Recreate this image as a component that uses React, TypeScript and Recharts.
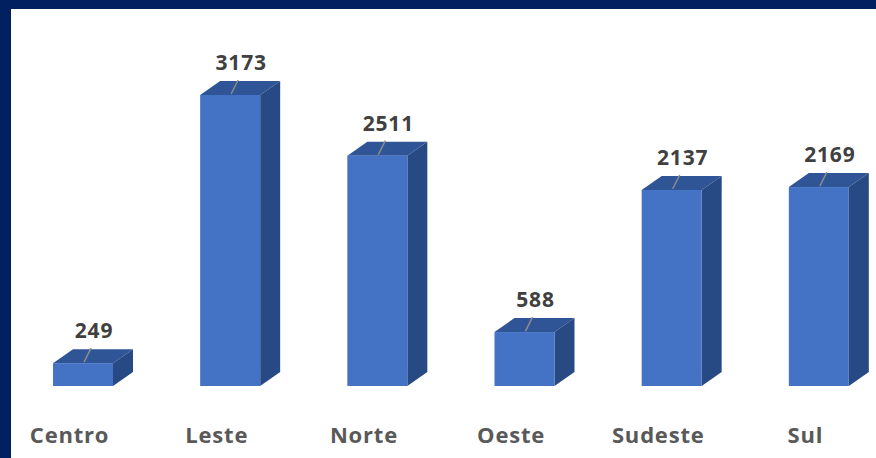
import { BarChart, Bar, XAxis, YAxis, LabelList } from "recharts";

const regions = ["Centro", "Leste", "Norte", "Oeste", "Sudeste", "Sul"];
const totals = [249, 3173, 2511, 588, 2137, 2169];

const data = regions.map((name, i) => ({ name, total: totals[i] }));

const DX = 20;
const DY = 14;

function Bar3D(props: any) {
  const { x, y, width, height } = props;
  if (height <= 0) return null;
  const r = x + width;
  const b = y + height;
  return (
    <g>
      <polygon points={`${x},${y} ${x + DX},${y - DY} ${r + DX},${y - DY} ${r},${y}`} fill="#2f5597" />
      <polygon points={`${r},${y} ${r + DX},${y - DY} ${r + DX},${b - DY} ${r},${b}`} fill="#284a84" />
      <rect x={x} y={y} width={width} height={height} fill="#4472c4" />
    </g>
  );
}

function ValueLabel(props: any) {
  const { x, y, width, value } = props;
  const cx = x + width / 2;
  return (
    <g>
      <line x1={cx + 1} y1={y - 1} x2={cx + 8} y2={y - 15} stroke="#8c8c8c" strokeWidth={1.5} />
      <text x={cx + 11} y={y - 25} textAnchor="middle" fill="#404040" fontSize={21} fontWeight="bold" letterSpacing={0.8} fontFamily="'Open Sans', sans-serif">
        {value}
      </text>
    </g>
  );
}

function CategoryTick(props: any) {
  const { x, y, payload } = props;
  return (
    <text x={x - 13} y={y + 57} textAnchor="middle" fill="#595959" fontSize={22} fontWeight="bold" letterSpacing={0.8} fontFamily="'Open Sans', sans-serif">
      {payload.value}
    </text>
  );
}

export default function App() {
  return (
    <div style={{ position: "fixed", left: 0, top: 0, width: 876, height: 458, background: "#002060" }}>
      <div style={{ position: "absolute", left: 11, top: 9, width: 865, height: 449, background: "#fff", overflow: "hidden" }}>
        <div style={{ position: "absolute", left: -2, top: 0 }}>
          <BarChart width={883} height={449} data={data} margin={{ top: 56, right: 0, bottom: 0, left: 0 }} barCategoryGap={0}>
            <XAxis dataKey="name" axisLine={false} tickLine={false} tickSize={0} tickMargin={0} height={72} tick={<CategoryTick />} interval={0} />
            <YAxis hide domain={[0, 3500]} />
            <Bar dataKey="total" barSize={60} shape={<Bar3D />} isAnimationActive={false}>
              <LabelList dataKey="total" content={<ValueLabel />} />
            </Bar>
          </BarChart>
        </div>
      </div>
    </div>
  );
}
